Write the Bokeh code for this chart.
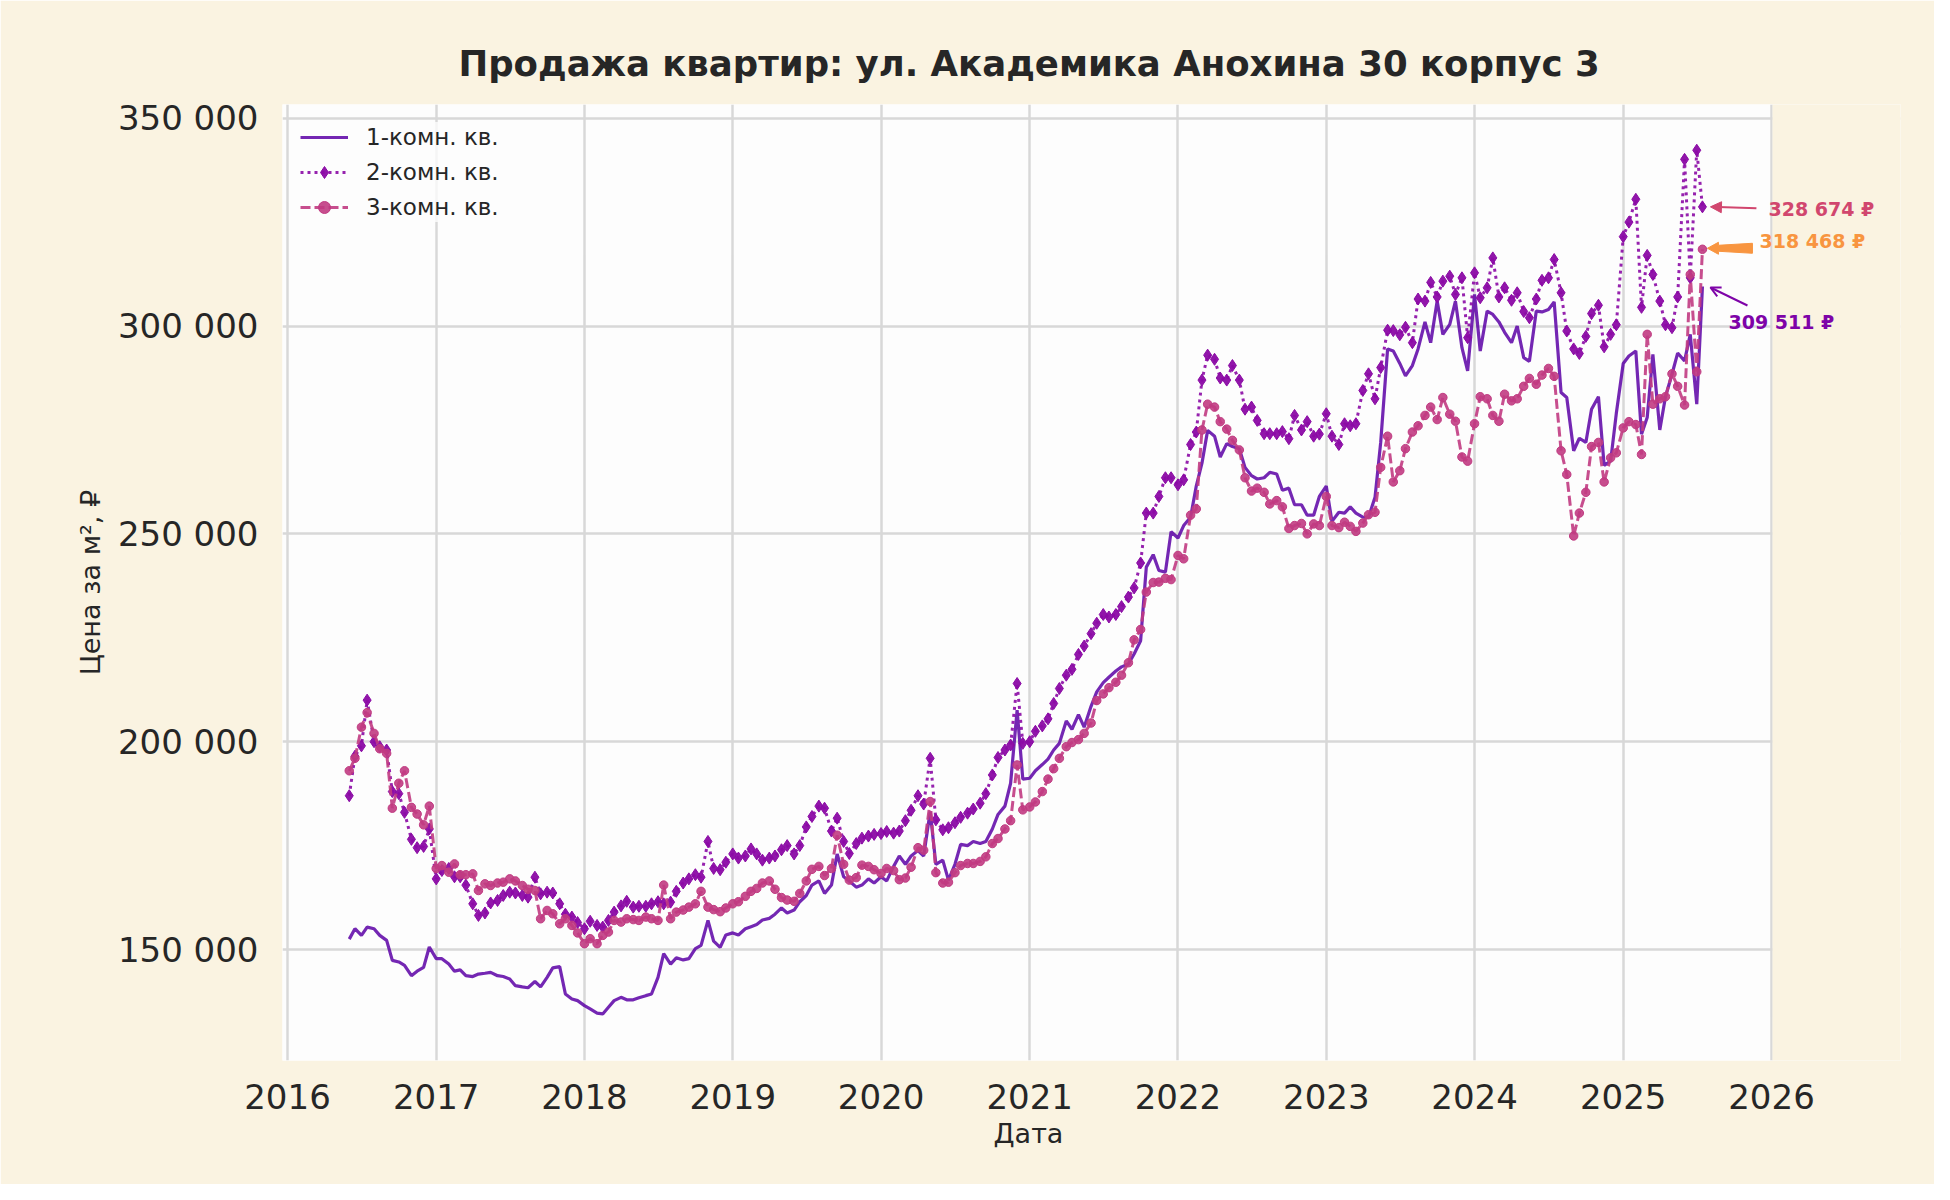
import pandas as pd
from bokeh.plotting import figure
from bokeh.models import (Range1d, FixedTicker, Legend, LegendItem, Label, Arrow, Title,
                          NormalHead, OpenHead, ColumnDataSource)
from bokeh.embed import file_html
from bokeh.resources import INLINE

title_text = "Продажа квартир: ул. Академика Анохина 30 корпус 3"
series_names = ["1-комн. кв.", "2-комн. кв.", "3-комн. кв."]
x_label = "Дата"
y_label = "Цена за м², ₽"
start_date = "2016-06-01"          # semi-monthly observations (1st and 15th)
year_ticks = [2016, 2017, 2018, 2019, 2020, 2021, 2022, 2023, 2024, 2025, 2026]
y_ticks = [150000, 200000, 250000, 300000, 350000]
y_tick_labels = ["150 000", "200 000", "250 000", "300 000", "350 000"]

# prices, thousand RUB per m2
one_room_k = [
    # 2016 (Jun-Dec)
    152.5, 155.0, 153.4, 155.4, 155.0, 153.4, 152.2, 147.4, 147.0, 146.2, 143.7, 144.8, 145.7, 150.6,
    # 2017
    147.8, 147.8, 146.5, 144.8, 145.1, 143.7, 143.5, 144.1, 144.3, 144.5, 143.7, 143.5,
    142.9, 141.3, 141.0, 140.8, 142.3, 141.0, 143.3, 145.6, 145.9, 139.3, 138.1, 137.7,
    # 2018
    136.5, 135.7, 134.7, 134.5, 136.1, 137.7, 138.5, 137.9, 137.9, 138.4, 138.9, 139.3,
    143.3, 149.0, 146.5, 148.0, 147.5, 147.8, 150.2, 151.0, 157.0, 152.0, 150.5, 153.5,
    # 2019
    154.0, 153.5, 155.0, 155.5, 156.0, 157.1, 157.5, 158.5, 160.0, 158.8, 159.5, 161.5,
    163.0, 165.5, 166.5, 163.5, 165.5, 173.0, 167.5, 166.5, 165.0, 165.5, 167.0, 166.0,
    # 2020
    167.5, 166.5, 170.0, 172.5, 170.5, 172.5, 173.8, 172.5, 183.2, 170.5, 171.5, 166.7,
    170.5, 175.3, 175.0, 176.0, 175.5, 176.0, 179.0, 182.5, 184.5, 190.0, 207.6, 191.0,
    # 2021
    191.2, 193.0, 194.5, 195.8, 198.0, 199.6, 205.0, 203.0, 206.5, 203.5, 208.5, 212.0,
    214.2, 215.5, 217.0, 218.0, 218.7, 221.1, 224.3, 242.0, 245.0, 241.2, 240.8, 250.5,
    # 2022
    249.0, 252.0, 254.0, 261.5, 267.0, 274.9, 273.5, 268.5, 271.7, 271.0, 270.5, 266.0,
    264.0, 263.2, 263.5, 264.8, 264.4, 260.5, 261.0, 257.0, 257.0, 254.5, 254.5, 259.0,
    # 2023
    261.5, 253.0, 255.2, 255.0, 256.5, 255.0, 254.0, 254.0, 258.8, 272.0, 294.5, 294.0,
    291.0, 288.0, 290.5, 294.5, 301.0, 296.0, 306.0, 298.0, 300.4, 306.0, 294.8, 289.2,
    # 2024
    307.6, 294.0, 303.6, 302.8, 301.0, 298.5, 296.0, 300.0, 292.4, 291.5, 303.6, 303.4,
    304.0, 305.8, 284.0, 282.8, 270.0, 273.0, 272.0, 280.0, 283.0, 266.5, 267.5, 279.0,
    # 2025 (Jan-Jul)
    291.0, 292.8, 294.0, 274.0, 278.0, 293.2, 275.0, 283.0, 288.4, 293.5, 291.6, 298.0, 281.2, 309.511,
]

two_room_k = [
    187.0, 196.5, 199.0, 210.0, 200.0, 198.8, 198.0, 188.0, 187.5, 183.0, 176.5, 174.5, 174.8, 179.0,
    167.0, 169.0, 169.5, 167.5, 167.5, 165.5, 161.0, 158.2, 158.8, 161.2, 161.8, 163.0,
    163.8, 163.6, 163.0, 162.6, 167.4, 163.4, 163.8, 163.6, 161.0, 158.5, 157.8, 156.5,
    155.0, 156.8, 155.8, 155.4, 157.0, 159.0, 160.5, 161.6, 160.2, 160.4, 160.4, 161.0,
    161.5, 161.0, 161.4, 164.0, 166.0, 167.0, 168.0, 167.4, 176.0, 169.5, 169.2, 171.0,
    173.0, 172.0, 172.5, 174.2, 173.0, 171.5, 172.0, 172.5, 174.0, 175.0, 173.0, 175.0,
    179.5, 182.0, 184.5, 184.0, 178.5, 181.6, 176.0, 173.1, 175.5, 176.8, 177.3, 177.7,
    177.9, 178.4, 178.0, 178.5, 181.0, 183.5, 187.0, 185.0, 196.0, 181.2, 178.8, 179.3,
    180.5, 181.8, 182.8, 183.8, 185.2, 187.5, 192.0, 196.2, 198.0, 199.2, 214.0, 199.6,
    200.0, 202.5, 203.8, 205.5, 209.2, 212.8, 216.0, 217.4, 221.0, 223.0, 226.0, 228.5,
    230.6, 230.0, 230.6, 232.5, 234.8, 237.0, 243.0, 255.0, 255.0, 259.0, 263.5, 263.5,
    261.8, 263.0, 271.5, 274.5, 287.0, 293.0, 292.0, 287.5, 287.0, 290.5, 287.0, 280.0,
    280.5, 277.3, 274.1, 274.1, 274.1, 274.6, 272.9, 278.5, 275.0, 277.0, 273.5, 274.0,
    278.9, 273.5, 271.5, 276.5, 276.0, 276.5, 284.5, 288.5, 282.5, 290.0, 299.0, 298.9,
    297.9, 299.7, 296.0, 306.5, 306.0, 310.5, 307.0, 310.8, 312.0, 307.6, 311.6, 297.2,
    312.8, 306.8, 309.2, 316.4, 307.0, 309.2, 306.2, 308.0, 303.5, 302.0, 306.5, 311.0,
    311.6, 316.0, 308.0, 298.8, 294.5, 293.4, 297.5, 303.0, 305.0, 295.0, 298.0, 300.3,
    321.5, 325.0, 330.5, 304.5, 317.0, 312.4, 306.0, 300.3, 299.6, 307.0, 340.1, 311.6, 342.3, 328.674,
]

three_room_k = [
    193.0, 196.0, 203.5, 207.0, 202.0, 198.3, 197.2, 184.0, 190.0, 193.0, 184.2, 182.6, 180.0, 184.5,
    169.5, 170.2, 168.6, 170.6, 168.0, 168.0, 168.2, 164.2, 165.8, 165.4, 166.0, 166.2,
    167.0, 166.5, 165.4, 164.5, 164.2, 157.4, 159.4, 158.6, 156.2, 157.4, 155.8, 154.0,
    151.4, 152.6, 151.4, 153.4, 154.2, 157.0, 156.6, 157.4, 157.2, 157.0, 157.8, 157.4,
    157.0, 165.5, 157.4, 159.0, 159.5, 160.2, 161.0, 164.0, 160.2, 159.6, 159.1, 160.0,
    161.0, 161.5, 162.8, 164.0, 164.7, 166.0, 166.5, 164.5, 162.5, 161.9, 161.6, 163.5,
    166.5, 169.3, 170.0, 167.8, 169.5, 177.5, 170.5, 166.7, 167.3, 170.3, 170.0, 169.2,
    168.3, 169.5, 169.0, 166.8, 167.2, 169.8, 174.5, 173.9, 185.6, 168.5, 166.0, 166.2,
    168.5, 170.2, 170.7, 170.7, 171.2, 172.3, 175.5, 176.7, 179.0, 181.0, 194.4, 183.6,
    184.3, 185.5, 188.0, 191.0, 193.5, 196.0, 198.8, 199.8, 200.5, 202.0, 204.5, 209.9,
    211.5, 213.0, 214.3, 216.0, 219.0, 224.5, 227.0, 236.0, 238.3, 238.4, 239.3, 239.0,
    244.8, 244.0, 254.5, 256.0, 275.0, 281.2, 280.5, 277.0, 275.2, 272.5, 270.2, 263.5,
    260.3, 261.0, 260.0, 257.2, 258.0, 256.5, 251.3, 252.0, 252.5, 250.0, 252.4, 252.0,
    259.0, 252.0, 251.5, 252.8, 251.8, 250.6, 252.6, 254.6, 255.2, 266.0, 273.5, 262.5,
    265.2, 270.5, 274.5, 276.0, 278.5, 280.5, 277.5, 282.8, 278.8, 277.1, 268.5, 267.5,
    276.5, 283.0, 282.5, 278.5, 277.1, 283.6, 282.0, 282.5, 285.5, 287.4, 286.0, 288.2,
    289.8, 287.9, 270.0, 264.3, 249.5, 255.0, 260.0, 271.0, 272.0, 262.5, 268.3, 269.5,
    275.5, 277.0, 276.3, 269.1, 298.0, 281.2, 282.5, 283.0, 288.5, 285.5, 281.0, 312.4, 289.0, 318.468,
]

colors = {"one": "#5c01a6", "two": "#8b0aa5", "three": "#c13b82"}
ann_colors = {"two": "#d1466e", "three": "#f89540", "one": "#7e03a8"}

dates = pd.date_range(start_date, periods=len(one_room_k), freq="SMS")
src = ColumnDataSource(dict(
    date=dates,
    one=[v * 1000 for v in one_room_k],
    two=[v * 1000 for v in two_room_k],
    three=[v * 1000 for v in three_room_k],
))

DAYS_PER_PX = 3653 / 1484
x0 = pd.Timestamp("2015-12-19 16:00")
x_axes_end = pd.Timestamp("2026-01-03 11:00")          # end of the white plotting area
x1 = x_axes_end + pd.Timedelta(days=128 * DAYS_PER_PX)  # extra room for the end labels
y0, y1 = 123300, 353300

bg = "#faf3e1"
txt = "#262626"

p = figure(width=1934, height=1184, x_axis_type="datetime",
           x_range=Range1d(x0, x1), y_range=Range1d(y0, y1),
           output_backend="svg", toolbar_location=None,
           min_border_left=282, min_border_right=34,
           min_border_top=104, min_border_bottom=124)

p.border_fill_color = bg
p.background_fill_color = "#fdfdfd"
p.outline_line_color = None

p.title.text = title_text
p.title.text_font = "DejaVu Sans"
p.title.text_font_size = "35.5px"
p.title.text_font_style = "bold"
p.title.text_color = txt
p.title.align = "left"
p.title.offset = 176
p.title.standoff = 42

p.grid.grid_line_color = "#d8d8d8"
p.grid.grid_line_width = 2.5

for ax in (p.xaxis, p.yaxis):
    ax.axis_line_color = None
    ax.major_tick_line_color = None
    ax.minor_tick_line_color = None
    ax.major_label_text_font = "DejaVu Sans"
    ax.major_label_text_font_size = "34px"
    ax.major_label_text_color = txt
    ax.axis_label_text_font = "DejaVu Sans"
    ax.axis_label_text_font_size = "27px"
    ax.axis_label_text_font_style = "normal"
    ax.axis_label_text_color = txt

year_ms = [pd.Timestamp(f"{y}-01-01").value / 1e6 for y in year_ticks]
p.xaxis.ticker = FixedTicker(ticks=year_ms)
p.xaxis.major_label_overrides = {ms: str(y) for ms, y in zip(year_ms, year_ticks)}
p.xaxis.major_label_standoff = 17

# x-axis title, centred under the white plotting area (not under the label strip)
p.add_layout(Title(text=x_label, align="left", offset=711, standoff=8,
                   text_font="DejaVu Sans", text_font_size="27px", text_font_style="normal",
                   text_color=txt), "below")

p.yaxis.ticker = FixedTicker(ticks=y_ticks)
p.yaxis.major_label_overrides = {t: s for t, s in zip(y_ticks, y_tick_labels)}
p.yaxis.major_label_standoff = 18
p.yaxis.axis_label = y_label
p.yaxis.axis_label_standoff = 9

# cream strip right of the white area, where the end labels live
p.quad(left=[x_axes_end], right=[x1 + pd.Timedelta(days=60)], bottom=[y0 - 50000], top=[y1 + 50000],
       fill_color=bg, line_color=None)

r1 = p.line("date", "one", source=src, line_color=colors["one"], line_width=3.2, line_alpha=0.85)
r2l = p.line("date", "two", source=src, line_color=colors["two"], line_width=3,
             line_dash="3 4", line_alpha=0.9)
r2m = p.scatter("date", "two", source=src, marker="diamond", size=12,
                fill_color=colors["two"], line_color=colors["two"], fill_alpha=0.95)
r3l = p.line("date", "three", source=src, line_color=colors["three"], line_width=3,
             line_dash="10 4", line_alpha=0.9)
r3m = p.scatter("date", "three", source=src, marker="circle", size=8.5,
                fill_color=colors["three"], line_color=colors["three"], fill_alpha=0.9)

legend = Legend(items=[
    LegendItem(label=series_names[0], renderers=[r1]),
    LegendItem(label=series_names[1], renderers=[r2l, r2m]),
    LegendItem(label=series_names[2], renderers=[r3l, r3m]),
], location="top_left")
legend.label_text_font = "DejaVu Sans"
legend.label_text_font_size = "23px"
legend.label_text_color = txt
legend.glyph_width = 48
legend.glyph_height = 30
legend.label_height = 30
legend.spacing = 5
legend.label_standoff = 18
legend.margin = 18
legend.padding = 10
legend.background_fill_color = "#fdfdfd"
legend.background_fill_alpha = 0.8
legend.border_line_color = None
p.add_layout(legend)

# ---- end-value annotations ----
MS_PER_PX = DAYS_PER_PX * 86400000.0
VAL_PER_PX = 240.6
last_ms = dates[-1].value / 1e6
last = {"one": one_room_k[-1] * 1000, "two": two_room_k[-1] * 1000, "three": three_room_k[-1] * 1000}


def pt(key, dx, dy):
    return last_ms + dx * MS_PER_PX, last[key] + dy * VAL_PER_PX


def fmt(v):
    return f"{int(round(v)):,}".replace(",", " ") + " ₽"


# 2-room value
xs, ys = pt("two", 54, -1.5)
xe, ye = pt("two", 8, 0)
p.add_layout(Arrow(end=NormalHead(size=11, fill_color=ann_colors["two"], line_color=ann_colors["two"]),
                   x_start=xs, y_start=ys, x_end=xe, y_end=ye,
                   line_color=ann_colors["two"], line_width=2))
# 3-room value (wedge arrow)
wx, wy = zip(pt("three", 5, 1), pt("three", 16, 7), pt("three", 16, 4), pt("three", 50, 6),
             pt("three", 50, -4), pt("three", 16, -2), pt("three", 16, -5))
p.patch(list(wx), list(wy), fill_color=ann_colors["three"], line_color=ann_colors["three"], line_width=1)
# 1-room value
xs, ys = pt("one", 45, -19)
xe, ye = pt("one", 8, -1)
p.add_layout(Arrow(end=OpenHead(size=10, line_color=ann_colors["one"], line_width=2),
                   x_start=xs, y_start=ys, x_end=xe, y_end=ye,
                   line_color=ann_colors["one"], line_width=2))

for key, dx, dy in (("two", 66, -2.6), ("three", 57, 7.8), ("one", 26, -35.7)):
    p.add_layout(Label(x=last_ms, y=last[key], x_offset=dx, y_offset=dy, text=fmt(last[key]),
                       text_font="DejaVu Sans", text_font_size="19px", text_font_style="bold",
                       text_color=ann_colors[key], text_baseline="middle", text_align="left"))

open("out.html", "w").write(file_html(p, INLINE))
